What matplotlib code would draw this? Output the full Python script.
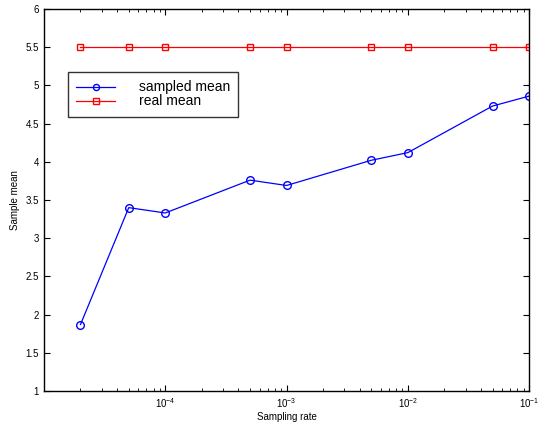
import matplotlib
matplotlib.use("Agg")
import matplotlib.pyplot as plt
from matplotlib.ticker import LogLocator, NullFormatter

plt.rcParams['font.family'] = ['Liberation Sans', 'DejaVu Sans']

rates = [2e-5, 5e-5, 1e-4, 5e-4, 1e-3, 5e-3, 1e-2, 5e-2, 1e-1]
sampled_mean = [1.87, 3.40, 3.33, 3.76, 3.69, 4.02, 4.12, 4.73, 4.86]
real_mean = [5.5] * len(rates)

fig = plt.figure(figsize=(5.39, 4.29), dpi=100)
ax = fig.add_axes([0.0816, 0.0886, 0.9, 0.8904])

ax.plot(rates, sampled_mean, color='blue', marker='o', markersize=5.5,
        markerfacecolor='none', linewidth=0.9, label='sampled mean')
ax.plot(rates, real_mean, color='red', marker='s', markersize=5,
        markerfacecolor='none', linewidth=0.9, label='real mean')

ax.set_xscale('log')
ax.set_xlim(1e-5, 1e-1)
ax.set_ylim(1, 6)
ax.set_xticks([1e-4, 1e-3, 1e-2, 1e-1])
ax.xaxis.set_minor_locator(LogLocator(base=10, subs=range(2, 10)))
ax.xaxis.set_minor_formatter(NullFormatter())
ax.set_yticks([1, 1.5, 2, 2.5, 3, 3.5, 4, 4.5, 5, 5.5, 6])
ax.set_yticklabels(['1', '1.5', '2', '2.5', '3', '3.5', '4', '4.5', '5', '5.5', '6'])

ax.tick_params(which='both', direction='in', top=True, right=True, labelsize=7)
ax.tick_params(which='major', length=4)
ax.tick_params(which='minor', length=2)
for s in ax.spines.values():
    s.set_linewidth(1.0)

ax.set_xlabel('Sampling rate', fontsize=7, labelpad=2)
ax.set_ylabel('Sample mean', fontsize=7, labelpad=4)

leg = ax.legend(loc='upper left', bbox_to_anchor=(0.049, 0.835), fontsize=10,
                frameon=True, fancybox=False, edgecolor='black',
                handlelength=2.8, handletextpad=1.7, borderpad=0.6,
                labelspacing=0.0, borderaxespad=0, markerscale=0.8)
leg.get_frame().set_linewidth(1.0)

fig.savefig('out.png', dpi=100)
